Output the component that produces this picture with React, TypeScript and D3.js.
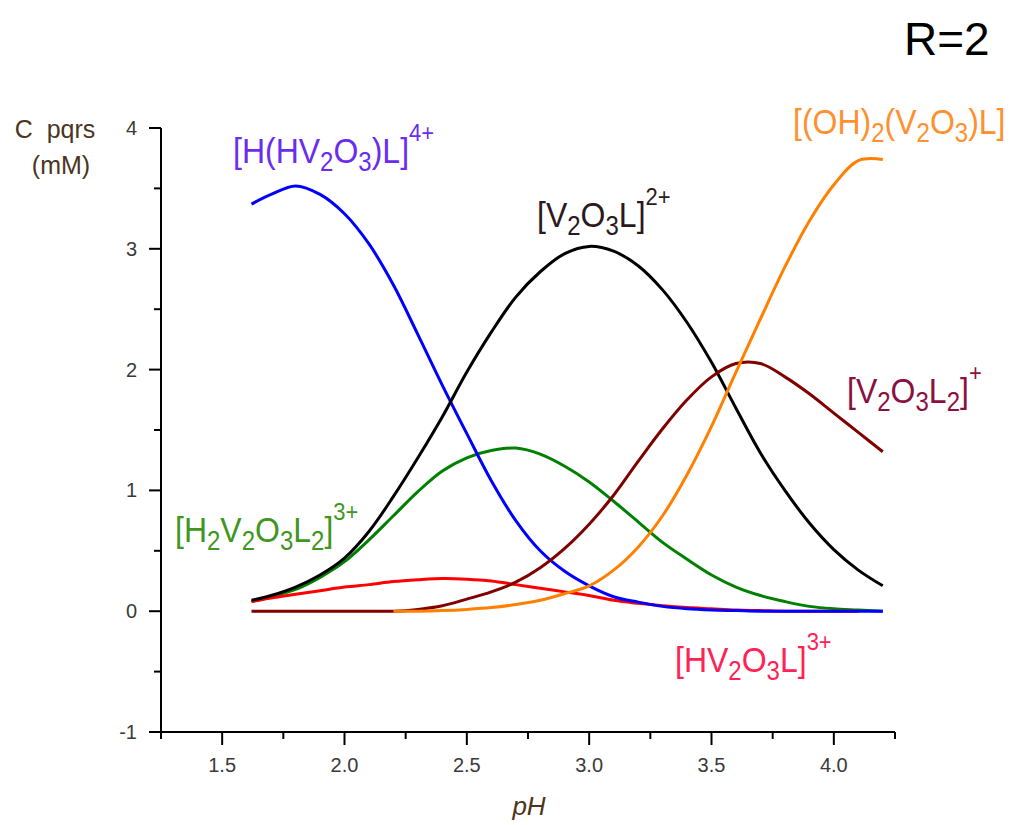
import React from 'react';
import * as d3 from 'd3';

// pH grid the species curves are read on
const phValues = [1.62, 1.7, 1.8, 1.9, 2.0, 2.1, 2.2, 2.3, 2.4, 2.5, 2.6, 2.7, 2.8, 2.9, 3.0,
  3.1, 3.2, 3.3, 3.4, 3.5, 3.6, 3.7, 3.8, 3.9, 4.0, 4.1, 4.2];

// concentrations (mM), null = not drawn
const hHV2O3L = [3.37, 3.45, 3.52, 3.45, 3.29, 3.04, 2.70, 2.29, 1.87, 1.47, 1.08, 0.75, 0.50, 0.33, 0.21,
  0.12, 0.075, 0.04, 0.02, 0.01, 0.005, 0, 0, 0, 0, 0, 0];
const v2O3L = [0.09, 0.13, 0.20, 0.30, 0.44, 0.66, 0.95, 1.27, 1.61, 1.98, 2.31, 2.60, 2.81, 2.96, 3.02,
  2.98, 2.86, 2.66, 2.39, 2.06, 1.68, 1.31, 1.00, 0.73, 0.51, 0.34, 0.21];
const h2V2O3L2 = [0.08, 0.12, 0.18, 0.28, 0.41, 0.59, 0.79, 0.99, 1.16, 1.27, 1.33, 1.35, 1.30, 1.20, 1.07,
  0.91, 0.74, 0.57, 0.43, 0.30, 0.20, 0.13, 0.08, 0.04, 0.02, 0.01, 0.0];
const hV2O3L = [0.08, 0.11, 0.14, 0.17, 0.20, 0.22, 0.245, 0.26, 0.27, 0.265, 0.25, 0.22, 0.19, 0.16, 0.13,
  0.09, 0.065, 0.045, 0.03, 0.02, 0.01, 0.005, 0, 0, 0, 0, null];
const v2O3L2 = [0, 0, 0, 0, 0, 0, 0, 0.015, 0.045, 0.10, 0.16, 0.24, 0.36, 0.52, 0.72,
  0.96, 1.24, 1.51, 1.75, 1.94, 2.05, 2.05, 1.94, 1.80, 1.64, 1.48, 1.32];
const oh2V2O3L = [null, null, null, null, null, null, 0, 0, 0.005, 0.015, 0.03, 0.055, 0.09, 0.145, 0.21,
  0.34, 0.53, 0.79, 1.13, 1.53, 1.98, 2.42, 2.85, 3.23, 3.53, 3.73, 3.74];

const xTicks = [1.5, 2.0, 2.5, 3.0, 3.5, 4.0];
const xMinorTicks = [1.25, 1.75, 2.25, 2.75, 3.25, 3.75, 4.25];
const yTicks = [-1, 0, 1, 2, 3, 4];
const yMinorTicks = [-0.5, 0.5, 1.5, 2.5, 3.5];

// label parts: [text, kind] with kind n = normal, b = subscript, p = superscript
const species = [
  { name: 'green', values: h2V2O3L2, line: '#008000', label: '#40961e', lx: 175, ly: 542,
    parts: [['[H', 'n'], ['2', 'b'], ['V', 'n'], ['2', 'b'], ['O', 'n'], ['3', 'b'], ['L', 'n'], ['2', 'b'], [']', 'n'], ['3+', 'p']] },
  { name: 'red', values: hV2O3L, line: '#ff0000', label: '#ff2255', lx: 675, ly: 672,
    parts: [['[HV', 'n'], ['2', 'b'], ['O', 'n'], ['3', 'b'], ['L]', 'n'], ['3+', 'p']] },
  { name: 'blue', values: hHV2O3L, line: '#0000ff', label: '#6a2cf0', lx: 233, ly: 163,
    parts: [['[H(HV', 'n'], ['2', 'b'], ['O', 'n'], ['3', 'b'], [')L]', 'n'], ['4+', 'p']] },
  { name: 'black', values: v2O3L, line: '#000000', label: '#2a1a20', lx: 537, ly: 227,
    parts: [['[V', 'n'], ['2', 'b'], ['O', 'n'], ['3', 'b'], ['L]', 'n'], ['2+', 'p']] },
  { name: 'maroon', values: v2O3L2, line: '#800000', label: '#8a1040', lx: 847, ly: 403,
    parts: [['[V', 'n'], ['2', 'b'], ['O', 'n'], ['3', 'b'], ['L', 'n'], ['2', 'b'], [']', 'n'], ['+', 'p']] },
  { name: 'orange', values: oh2V2O3L, line: '#ff8000', label: '#ff9030', lx: 793, ly: 134,
    parts: [['[(OH)', 'n'], ['2', 'b'], ['(V', 'n'], ['2', 'b'], ['O', 'n'], ['3', 'b'], [')L]', 'n']] },
];

const FONT = "'Liberation Sans', Arial, sans-serif";

const SpeciesChart = () => {
  const svgRef = React.useRef(null);
  const width = 1013;
  const height = 825;

  React.useEffect(() => {
    const svg = d3.select(svgRef.current);
    svg.selectAll('*').remove();

    const x = d3.scaleLinear().domain([1.25, 4.25]).range([161, 895]);
    const y = d3.scaleLinear().domain([-1, 4]).range([732, 128]);

    // curves
    species.forEach(s => {
      const pts = phValues.map((p, i) => [p, s.values[i]]);
      const line = d3.line()
        .defined(d => d[1] !== null)
        .x(d => x(d[0]))
        .y(d => y(d[1]))
        .curve(d3.curveCatmullRom.alpha(0.5));
      svg.append('path')
        .datum(pts)
        .attr('d', line)
        .attr('fill', 'none')
        .attr('stroke', s.line)
        .attr('stroke-width', 3)
        .attr('stroke-linejoin', 'round');
    });

    // axes
    const xAxis = svg.append('g').attr('transform', `translate(0,${y(-1)})`);
    xAxis.append('line').attr('x1', x(1.25)).attr('x2', x(4.25)).attr('stroke', '#000').attr('stroke-width', 2);
    xAxis.selectAll('.maj').data(xTicks).join('line')
      .attr('x1', d => x(d)).attr('x2', d => x(d)).attr('y1', 0).attr('y2', 13)
      .attr('stroke', '#000').attr('stroke-width', 2);
    xAxis.selectAll('.min').data(xMinorTicks).join('line')
      .attr('x1', d => x(d)).attr('x2', d => x(d)).attr('y1', 0).attr('y2', 7)
      .attr('stroke', '#000').attr('stroke-width', 2);
    xAxis.selectAll('text').data(xTicks).join('text')
      .attr('x', d => x(d)).attr('y', 40)
      .attr('text-anchor', 'middle')
      .style('font-family', FONT).style('font-size', '20px').attr('fill', '#3a3a3a')
      .text(d => d.toFixed(1));

    const yAxis = svg.append('g').attr('transform', `translate(${x(1.25)},0)`);
    yAxis.append('line').attr('y1', y(-1)).attr('y2', y(4)).attr('stroke', '#000').attr('stroke-width', 2);
    yAxis.selectAll('.maj').data(yTicks).join('line')
      .attr('y1', d => y(d)).attr('y2', d => y(d)).attr('x1', 0).attr('x2', -12)
      .attr('stroke', '#000').attr('stroke-width', 2);
    yAxis.selectAll('.min').data(yMinorTicks).join('line')
      .attr('y1', d => y(d)).attr('y2', d => y(d)).attr('x1', 0).attr('x2', -7)
      .attr('stroke', '#000').attr('stroke-width', 2);
    yAxis.selectAll('text').data(yTicks).join('text')
      .attr('x', -24).attr('y', d => y(d) + 7)
      .attr('text-anchor', 'end')
      .style('font-family', FONT).style('font-size', '20px').attr('fill', '#3a3a3a')
      .text(d => d);

    // axis titles
    svg.append('text').attr('x', 55).attr('y', 138).attr('text-anchor', 'middle')
      .style('font-family', FONT).style('font-size', '25px').attr('fill', '#4a3520')
      .attr('xml:space', 'preserve')
      .text('C  pqrs');
    svg.append('text').attr('x', 61).attr('y', 174).attr('text-anchor', 'middle')
      .style('font-family', FONT).style('font-size', '25px').attr('fill', '#4a3520')
      .text('(mM)');
    svg.append('text').attr('x', 529).attr('y', 815).attr('text-anchor', 'middle')
      .style('font-family', FONT).style('font-size', '26px').style('font-style', 'italic')
      .attr('fill', '#4a3520')
      .text('pH');
    svg.append('text').attr('x', 904).attr('y', 55)
      .style('font-family', FONT).style('font-size', '46px').attr('fill', '#000')
      .text('R=2');

    // species labels
    const shift = { n: 0, b: 7, p: -20 };
    const size = { n: 32, b: 24, p: 22 };
    species.forEach(s => {
      const g = svg.append('g').attr('transform', `translate(${s.lx},${s.ly}) scale(1,1.12)`);
      const t = g.append('text')
        .style('font-family', FONT)
        .attr('fill', s.label);
      let cur = 0;
      s.parts.forEach(([txt, kind]) => {
        t.append('tspan')
          .attr('dy', shift[kind] - cur)
          .style('font-size', `${size[kind]}px`)
          .text(txt);
        cur = shift[kind];
      });
    });
  }, []);

  return <svg ref={svgRef} width={width} height={height} style={{ display: 'block' }} />;
};

export default function App() {
  return (
    <div style={{ position: 'absolute', left: 0, top: 0, background: '#fff' }}>
      <SpeciesChart />
    </div>
  );
}
